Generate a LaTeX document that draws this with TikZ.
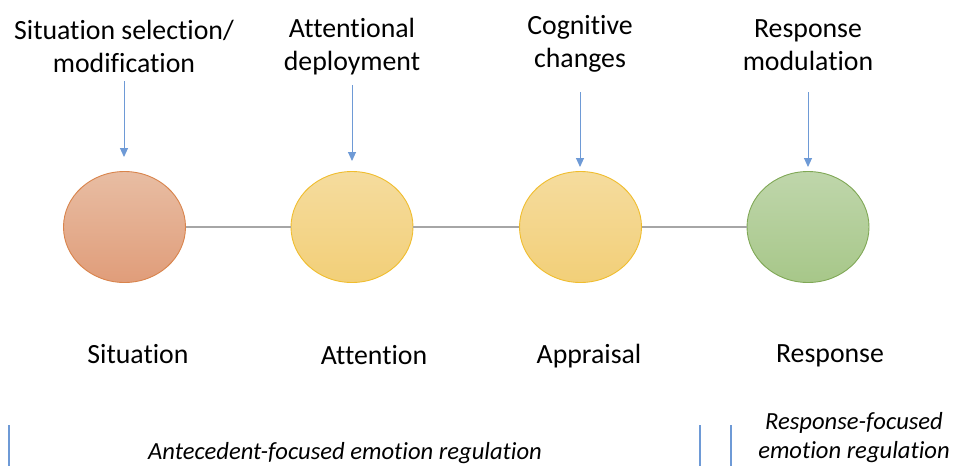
\documentclass[tikz,border=0pt]{standalone}
\usepackage{fontspec}
\setmainfont{Carlito}[Ligatures={NoCommon,NoContextual,NoRequired}]
\usetikzlibrary{shapes.geometric,arrows.meta}
\definecolor{arrowblue}{HTML}{6E9AD6}
\definecolor{linegray}{HTML}{A6A6A6}
\definecolor{orTop}{HTML}{E8BDA3}
\definecolor{orBot}{HTML}{E09D7A}
\definecolor{orLine}{HTML}{D9844C}
\definecolor{yeTop}{HTML}{F5DC9E}
\definecolor{yeBot}{HTML}{F2CF78}
\definecolor{yeLine}{HTML}{F0BD2E}
\definecolor{grTop}{HTML}{BFD6AB}
\definecolor{grBot}{HTML}{A7C789}
\definecolor{grLine}{HTML}{80A856}
\tikzset{
  stage/.style={ellipse, minimum width=122pt, minimum height=111pt, inner sep=0pt, line width=0.9pt},
  lbl/.style={align=center, font=\fontsize{27.8}{33}\selectfont, inner sep=0pt},
  bot/.style={align=center, font=\fontsize{24.6}{29}\selectfont\itshape, inner sep=0pt},
  down/.style={draw=arrowblue, line width=1pt, -{Triangle[width=8pt,length=9pt]}},
  link/.style={draw=linegray, line width=1.3pt},
  bar/.style={draw=arrowblue, line width=1.4pt}
}
\begin{document}
\begin{tikzpicture}[x=1pt,y=-1pt]
\useasboundingbox[fill=white] (0,0) rectangle (960,466);
% circles
\node[stage, draw=orLine, top color=orTop, bottom color=orBot] (c1) at (124.5,227) {};
\node[stage, draw=yeLine, top color=yeTop, bottom color=yeBot] (c2) at (352,227) {};
\node[stage, draw=yeLine, top color=yeTop, bottom color=yeBot] (c3) at (580.5,227) {};
\node[stage, draw=grLine, top color=grTop, bottom color=grBot] (c4) at (808,227) {};
\draw[link] (c1.east) -- (c2.west);
\draw[link] (c2.east) -- (c3.west);
\draw[link] (c3.east) -- (c4.west);
% top labels
\node[lbl] (t1) at (124,46) {Situation selection/\\modification};
\node[lbl] (t2) at (352,47) {Attentional\\deployment};
\node[lbl] (t3) at (580,44) {Cognitive\\changes};
\node[lbl] (t4) at (808,45) {Response\\modulation};
% arrows
\coordinate (a1s) at (124,81);  \coordinate (a1e) at (124,157);
\coordinate (a2s) at (352,85);  \coordinate (a2e) at (352,161);
\coordinate (a3s) at (580,92);  \coordinate (a3e) at (580,167);
\coordinate (a4s) at (808,92);  \coordinate (a4e) at (808,167);
\draw[down] (a1s) -- (a1e);
\draw[down] (a2s) -- (a2e);
\draw[down] (a3s) -- (a3e);
\draw[down] (a4s) -- (a4e);
% bottom stage names
\node[lbl] (s1) at (138,354) {Situation};
\node[lbl] (s2) at (374,355) {Attention};
\node[lbl] (s3) at (589,356) {Appraisal};
\node[lbl] (s4) at (830,356) {Response};
% regulation categories
\coordinate (b1t) at (9,425);   \coordinate (b1b) at (9,466);
\coordinate (b2t) at (700,425); \coordinate (b2b) at (700,466);
\coordinate (b3t) at (731,425); \coordinate (b3b) at (731,466);
\draw[bar] (b1t) -- (b1b);
\draw[bar] (b2t) -- (b2b);
\draw[bar] (b3t) -- (b3b);
\node[bot] (r1) at (345,453) {Antecedent-focused emotion regulation};
\node[bot] (r2) at (854,438) {Response-focused\\emotion regulation};
\end{tikzpicture}
\end{document}
